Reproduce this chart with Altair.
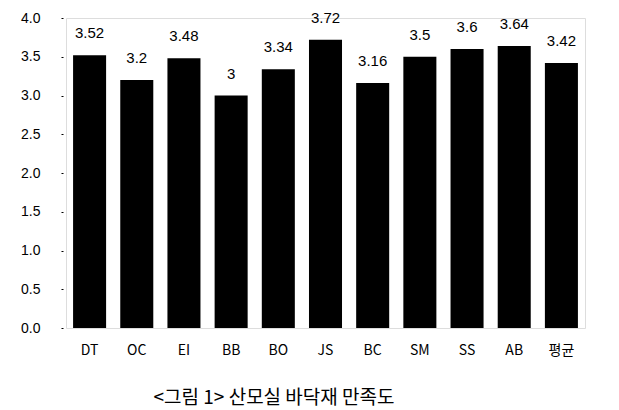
import altair as alt
import pandas as pd

categories = ["DT", "OC", "EI", "BB", "BO", "JS", "BC", "SM", "SS", "AB", "평균"]
values = [3.52, 3.2, 3.48, 3.0, 3.34, 3.72, 3.16, 3.5, 3.6, 3.64, 3.42]
labels = ["3.52", "3.2", "3.48", "3", "3.34", "3.72", "3.16", "3.5", "3.6", "3.64", "3.42"]
y_ticks = [0.0, 0.5, 1.0, 1.5, 2.0, 2.5, 3.0, 3.5, 4.0]
caption = "<그림 1> 산모실 바닥재 만족도"

df = pd.DataFrame({"cat": categories, "val": values, "lab": labels})

x = alt.X("cat:N", sort=categories, title=None,
          scale=alt.Scale(paddingInner=0.3, paddingOuter=0.15),
          axis=alt.Axis(labelAngle=0, domain=False, ticks=False, labelPadding=15,
                        labelFont="Noto Sans CJK KR", labelFontSize=14, labelColor="black"))
y = alt.Y("val:Q", title=None,
          scale=alt.Scale(domain=[0, 4]),
          axis=alt.Axis(values=y_ticks, format=".1f", domain=False, grid=False,
                        labelOverlap=False,
                        tickSize=2, tickColor="black", offset=3, labelPadding=21,
                        labelFont="Liberation Sans", labelFontSize=14, labelColor="black"))

base = alt.Chart(df).encode(x=x, y=y)
bars = base.mark_bar(color="black")
text = base.mark_text(dy=-14, baseline="bottom", fontSize=15,
                      font="Liberation Sans", color="black").encode(text="lab:N")

chart = (bars + text).properties(
    width=519, height=310,
    autosize=alt.AutoSizeParams(type="none"),
    padding={"left": 58, "top": 10, "right": 20, "bottom": 80},
    title=alt.TitleParams(caption, orient="bottom", anchor="start", dx=133, offset=32,
                          font="Noto Sans CJK KR", fontSize=19, fontWeight="normal", color="black"),
).configure_view(stroke=None).configure(background="white")

chart.save("out.html", embed_options={"renderer": "svg", "actions": False})
